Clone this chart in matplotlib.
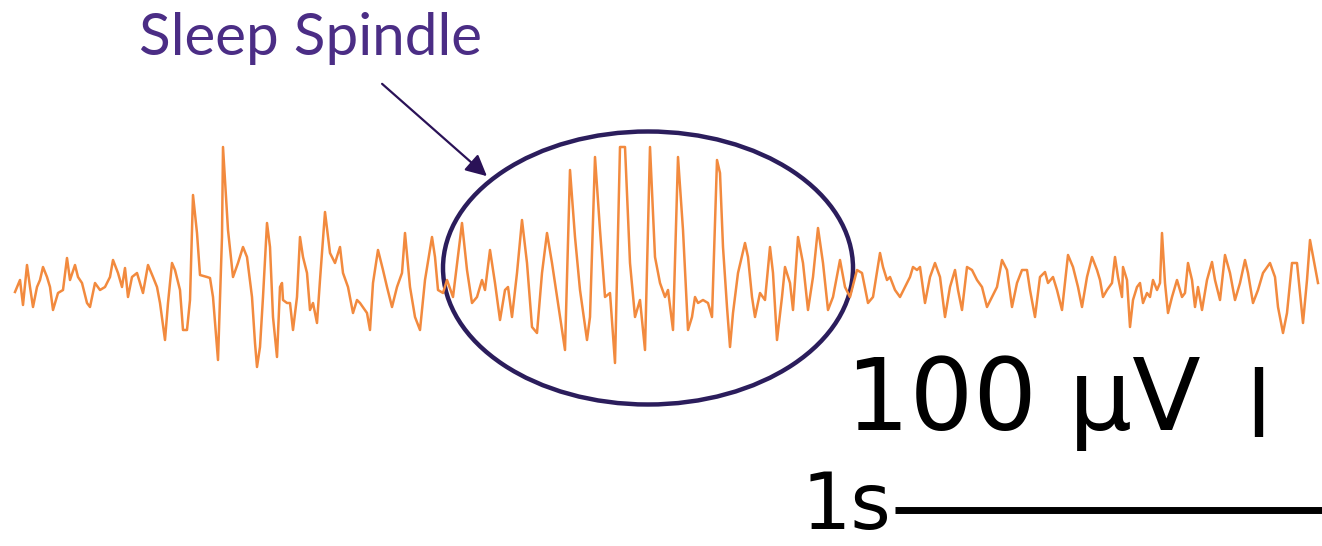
import matplotlib
matplotlib.use("Agg")
import matplotlib.pyplot as plt
from matplotlib.patches import Ellipse

# EEG trace (time in px, amplitude in px, y grows downward)
trace_t = [15, 20, 23, 27, 30, 33, 37, 40, 43, 47, 50, 53, 58, 63, 67, 70, 75, 78, 82, 87,
           90, 95, 100, 105, 110, 113, 118, 122, 125, 128, 132, 137, 140, 143, 148, 153, 157, 160,
           165, 168, 172, 175, 180, 183, 187, 190, 193, 197, 200, 207, 210, 213, 218, 222,
           223, 228, 233, 238, 243, 247, 252, 255, 257, 260, 263, 267, 270, 273, 277, 280, 282,
           283, 287, 290, 293, 297, 300, 303, 307, 310, 313, 317, 320, 325, 330, 335, 340, 343,
           348, 353, 357, 360, 367, 370, 373, 378, 383, 387, 392, 397, 402, 405, 410, 415, 420,
           425, 432, 435, 438, 443,
           447, 453, 462, 467, 472, 477, 482, 485, 490, 495, 500, 505, 508, 512, 517, 522, 527,
           532, 537, 542, 547, 552, 558, 565, 570, 575, 580, 587, 590, 595, 600, 605, 610, 615,
           620, 625, 630, 635, 640, 645, 650, 655, 660, 665, 668, 673, 678, 683, 688, 692, 695,
           698, 703, 708, 712, 717, 720, 723, 727, 730, 733, 738, 745, 748, 752, 755, 760, 765,
           770, 773, 777, 782, 785, 790, 793, 798, 803, 808, 813, 818, 823, 828, 833, 840, 845,
           850, 857, 862, 868, 873,
           880, 883, 887, 890, 895, 900, 905, 910, 913, 917, 920, 925, 930, 935, 940, 945, 950,
           955, 958, 962, 967, 972, 977, 982, 987, 992, 997, 1002, 1007, 1012, 1017, 1022, 1027,
           1030, 1035, 1040, 1045, 1048, 1053, 1057, 1062, 1068, 1073, 1078, 1082, 1087, 1092,
           1097,
           1100, 1103, 1107, 1112, 1115, 1118, 1122, 1123, 1127, 1130, 1133, 1137, 1140, 1143,
           1147, 1150, 1153, 1157, 1160, 1162, 1165, 1168, 1172, 1177, 1182, 1185, 1188, 1192,
           1195, 1198, 1202, 1207, 1212, 1215, 1220, 1225, 1230, 1235, 1240, 1245, 1248, 1253,
           1258, 1263, 1270, 1275, 1278, 1283, 1287, 1292, 1297, 1300, 1303, 1307, 1310, 1315,
           1318]
trace_v = [292, 280, 305, 265, 287, 307, 287, 280, 267, 277, 287, 310, 293, 290, 258, 280, 265, 277, 283, 303,
           307, 283, 290, 287, 277, 260, 273, 287, 268, 297, 277, 273, 283, 293, 265, 277, 287, 303,
           340, 303, 263, 270, 290, 330, 330, 300, 195, 233, 275, 277, 278, 297, 360, 237,
           147, 230, 277, 263, 247, 257, 297, 343, 367, 347, 297, 223, 247, 317, 357, 287, 283,
           300, 303, 303, 330, 297, 237, 257, 273, 310, 303, 323, 280, 212, 253, 263, 247, 273,
           287, 313, 300, 303, 313, 330, 283, 250, 270, 287, 307, 287, 273, 233, 287, 317, 330,
           280, 237, 257, 290, 293,
           280, 297, 223, 270, 303, 297, 280, 290, 250, 283, 320, 290, 287, 317, 273, 220, 263,
           327, 333, 273, 233, 263, 303, 350, 170, 237, 290, 340, 317, 157, 230, 297, 293, 363,
           147, 147, 263, 317, 300, 350, 147, 257, 283, 297, 290, 330, 157, 230, 330, 317, 297,
           303, 300, 303, 317, 160, 173, 247, 307, 347, 313, 273, 243, 257, 297, 317, 293, 300,
           247, 273, 340, 297, 267, 283, 310, 237, 263, 310, 277, 228, 263, 310, 297, 260, 287,
           297, 270, 273, 303, 297,
           253, 267, 280, 277, 290, 297, 287, 277, 267, 270, 267, 303, 277, 263, 277, 317, 287,
           270, 290, 310, 267, 270, 280, 287, 307, 297, 287, 260, 270, 307, 283, 270, 270,
           290, 317, 277, 272, 283, 277, 290, 310, 255, 267, 287, 307, 277, 257,
           270,
           280, 297, 290, 283, 257, 277, 297, 267, 280, 327, 300, 287, 283, 303,
           293, 297, 280, 290, 283, 233, 283, 313, 297, 280, 297, 293, 263, 280,
           307, 287, 310, 280, 262, 280, 300, 255, 273, 300, 283, 260, 273, 303,
           290, 273, 263, 277, 307, 333, 313, 263, 263, 293, 323, 280, 240, 267,
           283]

title_text = "Sleep Spindle"
volt_label = "100 \u03bcV"
time_label = "1s"

fig = plt.figure(figsize=(13.22, 5.46), dpi=100)
ax = fig.add_axes([0, 0, 1, 1])
ax.set_xlim(0, 1322)
ax.set_ylim(546, 0)
ax.axis("off")

ax.plot(trace_t, trace_v, color="#f28a3e", lw=1.8, solid_joinstyle="round")

# spindle ring
ax.add_patch(Ellipse((648, 268), 410, 273, fill=False, ec="#2b1d5c", lw=3.2))

ax.annotate("", xy=(489, 178), xytext=(380, 82),
            arrowprops=dict(arrowstyle="-|>", color="#2a1257", lw=1.6,
                            mutation_scale=32))

ax.text(139, 55, title_text, color="#4b2d85", fontsize=42, family="Lato",
        ha="left", va="baseline")

# scale bars
ax.text(846, 430, volt_label, color="black", fontsize=72, family="DejaVu Sans",
        ha="left", va="baseline")
ax.plot([1259, 1259], [367, 437], color="black", lw=6, solid_capstyle="butt")
ax.text(891, 545, time_label, color="black", fontsize=56, family="DejaVu Sans",
        ha="right", va="bottom")
ax.plot([895, 1322], [510, 510], color="black", lw=5, solid_capstyle="butt")

fig.savefig("out.png", dpi=100)
